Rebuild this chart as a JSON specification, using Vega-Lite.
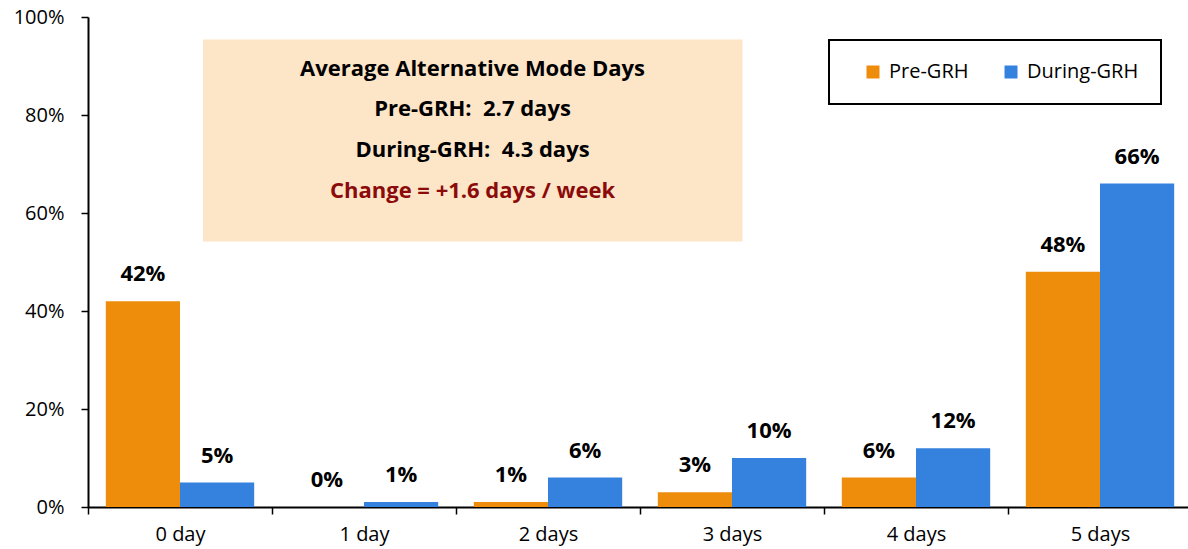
{
  "$schema": "https://vega.github.io/schema/vega-lite/v6.json",
  "width": 1100,
  "height": 490,
  "autosize": {"type": "none"},
  "padding": {"left": 88, "top": 17, "right": 0, "bottom": 42},
  "config": {
    "font": "Open Sans",
    "view": {"stroke": null},
    "axis": {"labelColor": "#000000", "domainColor": "#000000", "tickColor": "#000000"}
  },
  "layer": [
    {
      "data": {
        "values": [
          {"days": "0 day", "period": "Pre-GRH", "share": 0.42},
          {"days": "0 day", "period": "During-GRH", "share": 0.05},
          {"days": "1 day", "period": "Pre-GRH", "share": 0.0},
          {"days": "1 day", "period": "During-GRH", "share": 0.01},
          {"days": "2 days", "period": "Pre-GRH", "share": 0.01},
          {"days": "2 days", "period": "During-GRH", "share": 0.06},
          {"days": "3 days", "period": "Pre-GRH", "share": 0.03},
          {"days": "3 days", "period": "During-GRH", "share": 0.10},
          {"days": "4 days", "period": "Pre-GRH", "share": 0.06},
          {"days": "4 days", "period": "During-GRH", "share": 0.12},
          {"days": "5 days", "period": "Pre-GRH", "share": 0.48},
          {"days": "5 days", "period": "During-GRH", "share": 0.66}
        ]
      },
      "encoding": {
        "x": {
          "field": "days",
          "type": "nominal",
          "sort": null,
          "scale": {"range": [0, 1104], "paddingInner": 0, "paddingOuter": 0},
          "axis": {
            "title": null,
            "labelAngle": 0,
            "tickBand": "extent",
            "tickSize": 7,
            "tickWidth": 1.5,
            "labelPadding": 10,
            "labelFontSize": 20,
            "domainWidth": 2
          }
        },
        "xOffset": {
          "field": "period",
          "type": "nominal",
          "scale": {"domain": ["Pre-GRH", "During-GRH"], "paddingOuter": 0.24, "paddingInner": 0}
        },
        "y": {
          "field": "share",
          "type": "quantitative",
          "scale": {"domain": [0, 1], "nice": false},
          "axis": {
            "title": null,
            "values": [0, 0.2, 0.4, 0.6, 0.8, 1],
            "format": ".0%",
            "grid": false,
            "tickSize": 7,
            "tickWidth": 1.5,
            "labelPadding": 17,
            "labelFontSize": 20,
            "domainWidth": 2
          }
        }
      },
      "layer": [
        {
          "mark": {"type": "bar"},
          "encoding": {
            "color": {
              "field": "period",
              "type": "nominal",
              "scale": {"domain": ["Pre-GRH", "During-GRH"], "range": ["#EE8C0C", "#3582DE"]},
              "legend": {
                "title": null,
                "orient": "none",
                "legendX": 741,
                "legendY": 23,
                "direction": "horizontal",
                "strokeColor": "#000000",
                "padding": 22,
                "symbolType": "square",
                "symbolSize": 169,
                "symbolStrokeWidth": 0,
                "symbolOffset": 12,
                "labelFontSize": 20,
                "labelOffset": 6,
                "columnPadding": 20,
                "labelColor": "#000000",
                "encode": {"legend": {"update": {"strokeWidth": {"value": 2}}}}
              }
            }
          }
        },
        {
          "mark": {"type": "text", "dy": -20, "baseline": "alphabetic", "fontSize": 22, "fontWeight": "bold", "color": "#000000"},
          "encoding": {
            "text": {"field": "share", "type": "quantitative", "format": ".0%"}
          }
        }
      ]
    },
    {
      "data": {"values": [{}]},
      "layer": [
        {
          "mark": {"type": "rect", "color": "#FDE5C8"},
          "encoding": {
            "x": {"datum": 0.625, "type": "quantitative", "scale": {"domain": [0, 6], "range": [0, 1104], "nice": false, "zero": false}, "axis": null},
            "x2": {"datum": 3.557},
            "y": {"datum": 0.954, "type": "quantitative"},
            "y2": {"datum": 0.542}
          }
        },
        {
          "mark": {"type": "text", "text": "Average Alternative Mode Days", "fontSize": 22, "fontWeight": "bold", "baseline": "alphabetic", "align": "center", "color": "#000000"},
          "encoding": {
            "x": {"datum": 2.0897, "type": "quantitative", "scale": {"domain": [0, 6], "range": [0, 1104], "nice": false, "zero": false}, "axis": null},
            "y": {"datum": 0.8786, "type": "quantitative"}
          }
        },
        {
          "mark": {"type": "text", "text": "Pre-GRH: \u00a02.7 days", "fontSize": 22, "fontWeight": "bold", "baseline": "alphabetic", "align": "center", "color": "#000000"},
          "encoding": {
            "x": {"datum": 2.0897, "type": "quantitative", "scale": {"domain": [0, 6], "range": [0, 1104], "nice": false, "zero": false}, "axis": null},
            "y": {"datum": 0.797, "type": "quantitative"}
          }
        },
        {
          "mark": {"type": "text", "text": "During-GRH: \u00a04.3 days", "fontSize": 22, "fontWeight": "bold", "baseline": "alphabetic", "align": "center", "color": "#000000"},
          "encoding": {
            "x": {"datum": 2.0897, "type": "quantitative", "scale": {"domain": [0, 6], "range": [0, 1104], "nice": false, "zero": false}, "axis": null},
            "y": {"datum": 0.7153, "type": "quantitative"}
          }
        },
        {
          "mark": {"type": "text", "text": "Change = +1.6 days / week", "fontSize": 22, "fontWeight": "bold", "baseline": "alphabetic", "align": "center", "color": "#8B0A0A"},
          "encoding": {
            "x": {"datum": 2.0897, "type": "quantitative", "scale": {"domain": [0, 6], "range": [0, 1104], "nice": false, "zero": false}, "axis": null},
            "y": {"datum": 0.6316, "type": "quantitative"}
          }
        }
      ]
    }
  ],
  "resolve": {"scale": {"x": "independent"}}
}
